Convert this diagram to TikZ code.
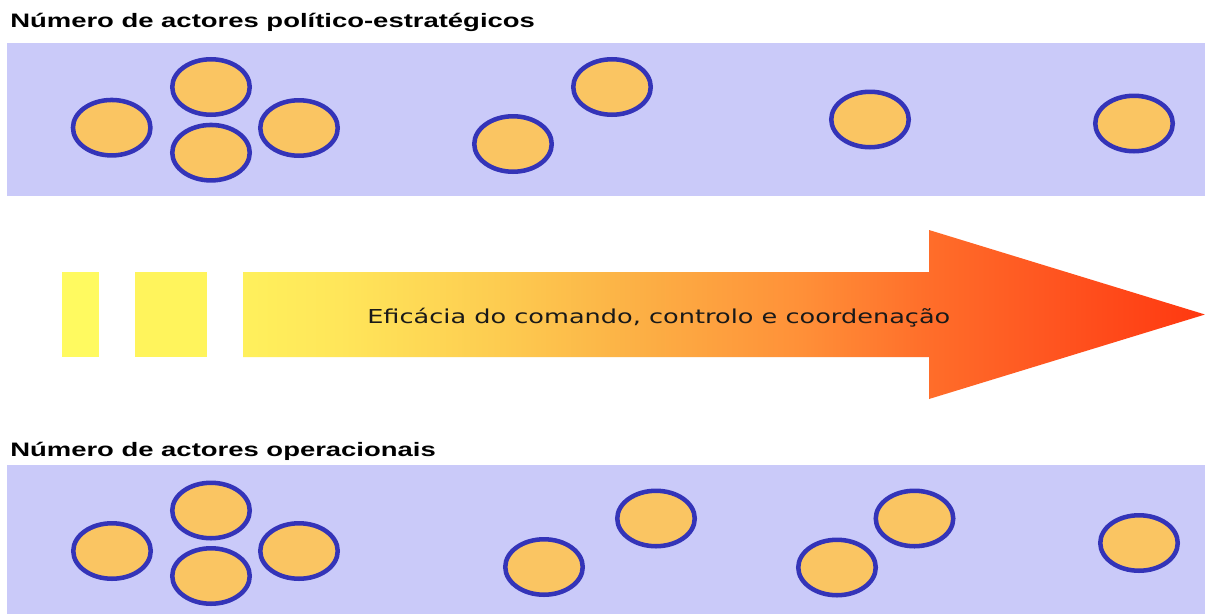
\documentclass[tikz,border=0pt]{standalone}
\usepackage{fontspec}
\usepackage{graphicx}
\usetikzlibrary{shapes.geometric}
\newfontfamily\arialfont{Liberation Sans}
\newfontfamily\verdfont{DejaVu Sans}
\definecolor{bandcol}{HTML}{CACAF9}
\definecolor{actfill}{HTML}{FAC562}
\definecolor{actline}{HTML}{3434B8}
\definecolor{rectA}{HTML}{FFFA60}
\definecolor{rectB}{HTML}{FFF45C}
\definecolor{ga0}{HTML}{FFF05C}
\definecolor{ga1}{HTML}{FFE65A}
\definecolor{ga2}{HTML}{FDCB50}
\definecolor{ga3}{HTML}{FCB045}
\definecolor{ga4}{HTML}{FF9038}
\definecolor{ga5}{HTML}{FF6E2A}
\definecolor{ga6}{HTML}{FF5520}
\definecolor{ga7}{HTML}{FF3810}
\pgfdeclarehorizontalshading{arrowshade}{100bp}{color(0bp)=(ga0); color(25bp)=(ga0); color(30bp)=(ga1); color(38.5bp)=(ga2); color(45.5bp)=(ga3); color(54bp)=(ga4); color(60.5bp)=(ga5); color(67bp)=(ga6); color(75bp)=(ga7); color(100bp)=(ga7)}
\begin{document}
\begin{tikzpicture}[x=0.75pt,y=-0.75pt,
  band/.style={fill=bandcol},
  actor/.style={ellipse,draw=actline,fill=actfill,line width=3.4pt,inner sep=0pt,minimum width=58.1pt,minimum height=41.6pt},
  titletext/.style={anchor=base west,inner sep=0pt,font=\arialfont\bfseries\fontsize{14.6pt}{17pt}\selectfont},
  arrowtext/.style={anchor=base west,inner sep=0pt,font=\verdfont\fontsize{14.4pt}{17pt}\selectfont,text=black!90}]
\useasboundingbox (0,0) rectangle (1205,614);
\fill[white] (0,0) rectangle (1205,614);
% bands
\fill[band] (7,43) rectangle (1205,196);
\fill[band] (7,465) rectangle (1205,614);
% titles
\node[titletext] (title1) at (10,27) {\scalebox{1.41}[1]{Número de actores político-estratégicos}};
\node[titletext] (title2) at (10,456) {\scalebox{1.41}[1]{Número de actores operacionais}};
% top actors
\node[actor] (t1) at (111.7,127.7) {};
\node[actor] (t2) at (211,87) {};
\node[actor] (t3) at (211,152.7) {};
\node[actor] (t4) at (299,128) {};
\node[actor] (t5) at (513,144) {};
\node[actor] (t6) at (612,87) {};
\node[actor] (t7) at (870,119.5) {};
\node[actor] (t8) at (1134,123.5) {};
% bottom actors
\node[actor] (b1) at (112,551) {};
\node[actor] (b2) at (211,510.5) {};
\node[actor] (b3) at (211,576) {};
\node[actor] (b4) at (299,551) {};
\node[actor] (b5) at (544,567) {};
\node[actor] (b6) at (656,518.5) {};
\node[actor] (b7) at (837,567.5) {};
\node[actor] (b8) at (914.5,518.5) {};
\node[actor] (b9) at (1139,543) {};
% arrow
\fill[rectA] (62,272) rectangle (99,357);
\fill[rectB] (135,272) rectangle (207,357);
\path[shading=arrowshade] (243,272) -- (929,272) -- (929,230) -- (1205,314.5) -- (929,399) -- (929,357) -- (243,357) -- cycle;
\node[arrowtext] (lbl) at (367,323) {\scalebox{1.333}[1]{Eficácia do comando, controlo e coordenação}};
\end{tikzpicture}
\end{document}
